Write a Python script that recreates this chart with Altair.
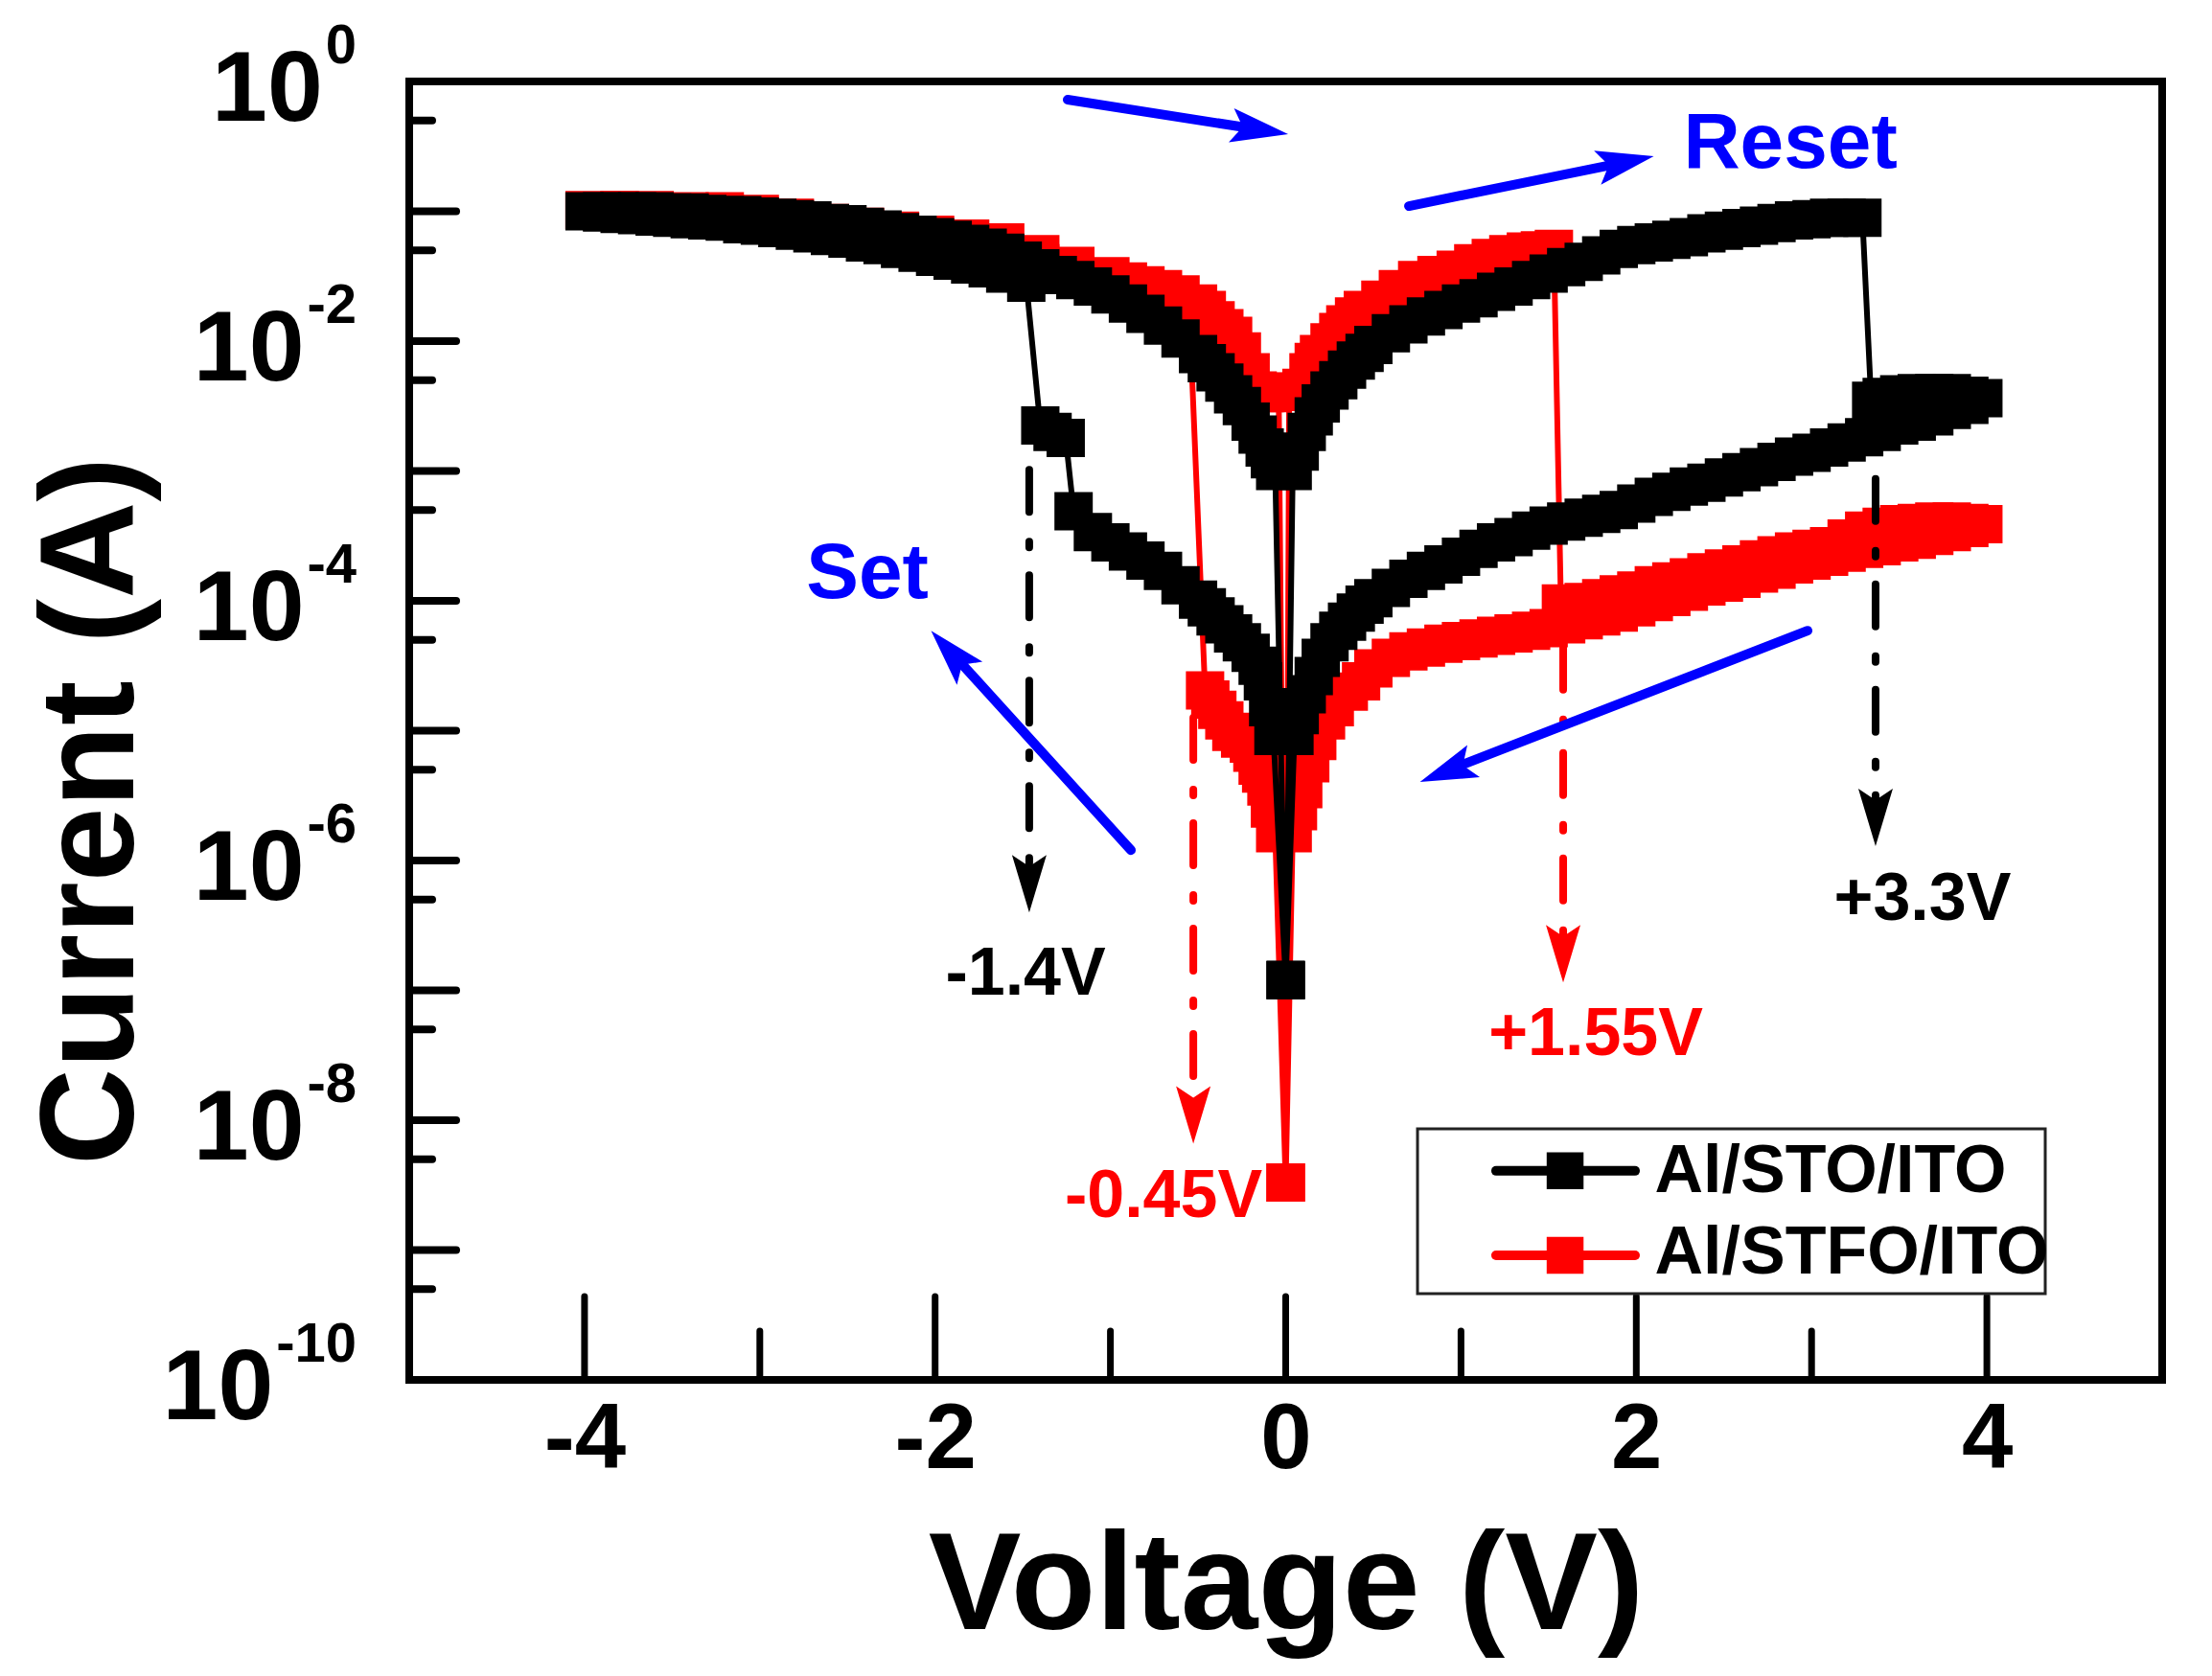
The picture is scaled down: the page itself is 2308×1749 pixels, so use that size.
import altair as alt
import pandas as pd

FONT = "Liberation Sans, Arial, Helvetica, sans-serif"
W, H = 1829, 1355          # plot area (px)
PXV = W / 10.0             # px per volt
PXD = H / 10.0             # px per decade

SERIES = ["Al/STO/ITO", "Al/STFO/ITO"]
COLORS = ["#000000", "#ff0000"]
BLUE = "#0000ff"

# ---------------- Al/STO/ITO (black) : sweep order, V and log10(I) ----------------
sto_lrs_pos_v = [0.04, 0.08, 0.12, 0.16, 0.20, 0.25, 0.30, 0.35, 0.40, 0.45, 0.50, 0.60, 0.70, 0.80, 0.90,
                 1.00, 1.10, 1.20, 1.30, 1.40, 1.50, 1.60, 1.70, 1.80, 1.90, 2.00, 2.10, 2.20, 2.30, 2.40,
                 2.50, 2.60, 2.70, 2.80, 2.90, 3.00, 3.10, 3.20, 3.29]
sto_lrs_pos_l = [-3.00, -2.85, -2.70, -2.58, -2.48, -2.38, -2.30, -2.22, -2.15, -2.09, -2.03, -1.94, -1.87,
                 -1.81, -1.76, -1.71, -1.67, -1.62, -1.58, -1.53, -1.48, -1.43, -1.39, -1.34, -1.29, -1.26,
                 -1.24, -1.22, -1.20, -1.17, -1.15, -1.13, -1.11, -1.09, -1.07, -1.06, -1.05, -1.05, -1.05]
sto_hrs_fwd_v = [3.34, 3.40, 3.50, 3.60, 3.70, 3.80, 3.90, 3.98]
sto_hrs_fwd_l = [-2.46, -2.43, -2.41, -2.40, -2.40, -2.40, -2.42, -2.44]
sto_hrs_back_v = [3.90, 3.80, 3.70, 3.60, 3.50, 3.40, 3.30, 3.20, 3.10, 3.00, 2.90, 2.80, 2.70, 2.60, 2.50,
                  2.40, 2.30, 2.20, 2.10, 2.00, 1.90, 1.80, 1.70, 1.60, 1.50, 1.40, 1.30, 1.20, 1.10, 1.00,
                  0.90, 0.80, 0.70, 0.60, 0.50, 0.45, 0.40, 0.35, 0.30, 0.25, 0.20, 0.16, 0.12, 0.08, 0.05]
sto_hrs_back_l = [-2.49, -2.53, -2.58, -2.62, -2.65, -2.70, -2.74, -2.78, -2.82, -2.86, -2.89, -2.93, -2.97,
                  -3.01, -3.05, -3.09, -3.12, -3.16, -3.20, -3.25, -3.30, -3.33, -3.36, -3.39, -3.42, -3.46,
                  -3.51, -3.55, -3.60, -3.66, -3.72, -3.77, -3.83, -3.90, -3.98, -4.03, -4.09, -4.16, -4.23,
                  -4.32, -4.44, -4.58, -4.72, -4.88, -5.04]
sto_hrs_neg_v = [-0.07, -0.10, -0.13, -0.16, -0.20, -0.25, -0.30, -0.35, -0.40, -0.45, -0.50, -0.60, -0.70,
                 -0.80, -0.90, -1.00, -1.10, -1.21, -1.255, -1.33, -1.40]
sto_hrs_neg_l = [-5.04, -4.82, -4.62, -4.50, -4.40, -4.32, -4.25, -4.18, -4.12, -4.05, -3.99, -3.88, -3.77,
                 -3.69, -3.62, -3.55, -3.47, -3.31, -2.745, -2.70, -2.65]
sto_lrs_out_v = [-1.48, -1.6, -1.7, -1.8, -1.9, -2.0, -2.1, -2.2, -2.3, -2.4, -2.5, -2.6, -2.7, -2.8, -2.9,
                 -3.0, -3.1, -3.2, -3.3, -3.4, -3.5, -3.6, -3.7, -3.8, -3.9, -4.0]
sto_lrs_out_l = [-1.55, -1.48, -1.44, -1.41, -1.38, -1.35, -1.32, -1.29, -1.26, -1.24, -1.21, -1.19, -1.17,
                 -1.15, -1.13, -1.11, -1.10, -1.08, -1.07, -1.06, -1.05, -1.04, -1.03, -1.02, -1.01, -1.00]
sto_lrs_in_v = [-3.9, -3.8, -3.7, -3.6, -3.5, -3.4, -3.3, -3.2, -3.1, -3.0, -2.9, -2.8, -2.7, -2.6, -2.5,
                -2.4, -2.3, -2.2, -2.1, -2.0, -1.9, -1.8, -1.7, -1.6, -1.5, -1.4, -1.3, -1.2, -1.1, -1.0,
                -0.9, -0.8, -0.7, -0.6, -0.5, -0.45, -0.40, -0.35, -0.30, -0.25, -0.20, -0.16, -0.12, -0.09, -0.06]
sto_lrs_in_l = [-1.00, -1.00, -1.00, -1.00, -1.01, -1.01, -1.02, -1.03, -1.03, -1.04, -1.05, -1.06, -1.07,
                -1.09, -1.10, -1.12, -1.14, -1.16, -1.18, -1.20, -1.22, -1.25, -1.28, -1.32, -1.38, -1.44,
                -1.49, -1.53, -1.58, -1.64, -1.71, -1.79, -1.88, -1.98, -2.10, -2.17, -2.24, -2.32, -2.41,
                -2.50, -2.62, -2.72, -2.82, -2.91, -3.00]
sto_zero_l = -6.92

# ---------------- Al/STFO/ITO (red) ----------------
stfo_lrs_pos_v = [0.02, 0.05, 0.09, 0.13, 0.16, 0.19, 0.25, 0.30, 0.34, 0.39, 0.44, 0.54, 0.64, 0.75, 0.86,
                  0.97, 1.07, 1.17, 1.27, 1.37, 1.45, 1.53]
stfo_lrs_pos_l = [-2.39, -2.39, -2.36, -2.24, -2.16, -2.10, -2.01, -1.93, -1.87, -1.81, -1.76, -1.68, -1.60,
                  -1.53, -1.49, -1.45, -1.40, -1.36, -1.33, -1.31, -1.30, -1.29]
stfo_hrs_fwd_v = [1.57, 1.7, 1.8, 1.9, 2.0, 2.1, 2.2, 2.3, 2.4, 2.5, 2.6, 2.7, 2.8, 2.9, 3.0, 3.1, 3.2, 3.3,
                  3.4, 3.5, 3.6, 3.7, 3.8, 3.9, 3.98]
stfo_hrs_fwd_l = [-4.02, -4.01, -3.98, -3.95, -3.92, -3.88, -3.85, -3.82, -3.78, -3.75, -3.72, -3.68, -3.65,
                  -3.62, -3.60, -3.58, -3.52, -3.46, -3.43, -3.41, -3.40, -3.39, -3.39, -3.40, -3.41]
stfo_hrs_back_v = [3.9, 3.8, 3.7, 3.6, 3.5, 3.4, 3.3, 3.2, 3.1, 3.0, 2.9, 2.8, 2.7, 2.6, 2.5, 2.4, 2.3, 2.2,
                   2.1, 2.0, 1.9, 1.8, 1.7, 1.6, 1.5, 1.4, 1.3, 1.2, 1.1, 1.0, 0.9, 0.8, 0.7, 0.6, 0.5, 0.43,
                   0.36, 0.28, 0.23, 0.18, 0.14, 0.10, 0.07, 0.04]
stfo_hrs_back_l = [-3.44, -3.47, -3.50, -3.53, -3.55, -3.58, -3.60, -3.63, -3.66, -3.69, -3.72, -3.76, -3.79,
                   -3.83, -3.86, -3.89, -3.93, -3.97, -4.01, -4.05, -4.09, -4.12, -4.15, -4.18, -4.21, -4.23,
                   -4.25, -4.27, -4.29, -4.31, -4.33, -4.36, -4.39, -4.44, -4.52, -4.62, -4.70, -4.82, -4.92,
                   -5.08, -5.25, -5.45, -5.62, -5.79]
stfo_hrs_neg_v = [-0.06, -0.09, -0.11, -0.14, -0.16, -0.19, -0.21, -0.26, -0.31, -0.35, -0.39, -0.43, -0.46]
stfo_hrs_neg_l = [-5.79, -5.60, -5.43, -5.33, -5.27, -5.17, -5.10, -5.06, -5.01, -4.92, -4.84, -4.76, -4.69]
stfo_lrs_out_v = [-0.55, -0.6, -0.7, -0.8, -0.9, -1.0, -1.2, -1.4, -1.6, -1.8, -2.0, -2.2, -2.4, -2.6, -2.8,
                  -3.0, -3.2, -3.4, -3.6, -3.8, -4.0]
stfo_lrs_out_l = [-1.75, -1.72, -1.68, -1.64, -1.60, -1.56, -1.48, -1.40, -1.33, -1.27, -1.22, -1.18, -1.14,
                  -1.10, -1.07, -1.04, -1.02, -1.01, -1.00, -0.99, -0.99]
stfo_lrs_in_v = [-3.8, -3.6, -3.4, -3.2, -3.0, -2.8, -2.6, -2.4, -2.2, -2.0, -1.8, -1.6, -1.4, -1.2, -1.0,
                 -0.9, -0.8, -0.7, -0.6, -0.5, -0.45, -0.40, -0.35, -0.30, -0.25, -0.20, -0.16, -0.12, -0.08, -0.04]
stfo_lrs_in_l = [-0.99, -0.99, -1.00, -1.00, -1.02, -1.05, -1.09, -1.12, -1.15, -1.18, -1.21, -1.24, -1.33,
                 -1.42, -1.50, -1.54, -1.57, -1.60, -1.64, -1.71, -1.76, -1.84, -1.90, -1.96, -2.08, -2.24,
                 -2.38, -2.40, -2.40, -2.39]
stfo_zero_l = -8.48

# ---------------- annotations ----------------
dd_v = [-1.463, 3.365, 1.583, -0.527]            # dash-dot arrows (switching voltages)
dd_top_l = [-2.99, -3.06, -4.36, -4.90]
dd_end_l = [-6.05, -5.54, -6.59, -7.83]
dd_tip_l = [-6.40, -5.89, -6.94, -8.18]
dd_col = ["#000000", "#000000", "#ff0000", "#ff0000"]

bl_start_v = [-1.244, 0.703, -0.883, 2.977]       # blue sweep-direction arrows
bl_start_l = [-0.140, -0.960, -5.920, -4.230]
bl_end_v = [-0.245, 1.845, -1.844, 1.013]
bl_end_l = [-0.351, -0.646, -4.491, -5.259]
bl_tip_v = [0.014, 2.100, -2.023, 0.766]
bl_tip_l = [-0.406, -0.576, -4.230, -5.395]
bl_ang = [98.9, 78.5, 317.8, 248.8]

ann_text = ["-1.4V", "+3.3V", "+1.55V", "-0.45V", "Set", "Reset"]
ann_v = [-1.484, 3.633, 1.769, -0.697, -2.386, 2.879]
ann_l = [-7.03, -6.458, -7.498, -8.745, -3.978, -0.664]
ann_col = ["#000000", "#000000", "#ff0000", "#ff0000", BLUE, BLUE]
ann_size = [70, 70, 70, 70, 82, 82]

y_exps = [0, -2, -4, -6, -8, -10]
x_major = [-4, -2, 0, 2, 4]
x_minor = [-3, -1, 1, 3]
y_major = [-1, -2, -3, -4, -5, -6, -7, -8, -9]
y_minor = [0.5 * 10.0 ** k for k in range(0, -10, -1)]

# legend layout (data coordinates of the legend box)
leg_box = dict(V=0.752, V2=4.333, L=-8.066, L2=-9.336)
leg_row_l = [-8.39, -9.04]
leg_text_l = [-8.553, -9.181]
leg_line_v = (1.200, 1.993)
leg_sym_v = 1.594
leg_text_v = 2.105


def p10(xs):
    return [10.0 ** x for x in xs]


def series_df(name, parts_v, parts_l):
    vs, ls = [], []
    for a, b in zip(parts_v, parts_l):
        assert len(a) == len(b), (name, len(a), len(b))
        vs += a
        ls += b
    return pd.DataFrame({"series": name, "idx": list(range(len(vs))), "V": vs, "I": p10(ls)})


sto = series_df(SERIES[0],
                [[0.0], sto_lrs_pos_v, sto_hrs_fwd_v, sto_hrs_back_v, [0.0], sto_hrs_neg_v, sto_lrs_out_v, sto_lrs_in_v, [0.0]],
                [[sto_zero_l], sto_lrs_pos_l, sto_hrs_fwd_l, sto_hrs_back_l, [sto_zero_l], sto_hrs_neg_l, sto_lrs_out_l, sto_lrs_in_l, [sto_zero_l]])
stfo = series_df(SERIES[1],
                 [[0.0], stfo_lrs_pos_v, stfo_hrs_fwd_v, stfo_hrs_back_v, [0.0], stfo_hrs_neg_v, stfo_lrs_out_v, stfo_lrs_in_v, [0.0]],
                 [[stfo_zero_l], stfo_lrs_pos_l, stfo_hrs_fwd_l, stfo_hrs_back_l, [stfo_zero_l], stfo_hrs_neg_l, stfo_lrs_out_l, stfo_lrs_in_l, [stfo_zero_l]])

XS = alt.Scale(domain=[-5, 5], nice=False, zero=False)
YS = alt.Scale(type="log", domain=[1e-10, 1], nice=False)
COLOR = alt.Color("series:N", scale=alt.Scale(domain=SERIES, range=COLORS), legend=None)

X_AXIS = alt.Axis(values=x_major, labelExpr="datum.value < 0 ? '-' + abs(datum.value) : '' + datum.value",
                  ticks=False, tickSize=0, domain=False, grid=False, labelFont=FONT, labelFontSize=96,
                  labelFontWeight="bold", labelColor="black", labelPadding=15, labelFlush=False,
                  title="Voltage (V)", titleFont=FONT, titleFontSize=145, titleFontWeight="bold",
                  titleColor="black", titleY=259, titleBaseline="alphabetic", titleAlign="center")
Y_AXIS = alt.Axis(labels=False, ticks=False, tickSize=0, domain=False, grid=False,
                  title="Current (A)", titleFont=FONT, titleFontSize=140, titleFontWeight="bold",
                  titleColor="black", titleAngle=270, titleX=-289, titleY=761, titleAlign="center",
                  titleBaseline="alphabetic")


def xq(f="V"):
    return alt.X(f + ":Q", scale=XS, axis=X_AXIS)


def yq(f="I"):
    return alt.Y(f + ":Q", scale=YS, axis=Y_AXIS)


# ---- inward ticks ----
ytick_df = pd.DataFrame({"I": p10(y_major) + y_minor,
                         "V": -5.0,
                         "V2": [-5 + 49 / PXV] * len(y_major) + [-5 + 24 / PXV] * len(y_minor)})
xtick_df = pd.DataFrame({"V": x_major + x_minor, "I": 1e-10,
                         "I2": [10 ** (-10 + 87 / PXD)] * len(x_major) + [10 ** (-10 + 51 / PXD)] * len(x_minor)})
yticks = alt.Chart(ytick_df).mark_rule(color="black", strokeWidth=8, strokeCap="round").encode(
    x=xq(), x2="V2:Q", y=yq())
xticks = alt.Chart(xtick_df).mark_rule(color="black", strokeWidth=7, strokeCap="round").encode(
    x=xq(), y=yq(), y2="I2:Q")

# ---- y tick labels: "10" + superscript exponent ----
def exp_width(e):
    s = str(e)
    return 32.2 * sum(c.isdigit() for c in s) + 19.3 * s.count("-")

ylab_df = pd.DataFrame({
    "I": [10.0 ** e for e in y_exps],
    "exp": [str(e) for e in y_exps],
    "Ve": -5 + (372 - 427) / PXV,
    "Vt": [-5 + (372 - exp_width(e) - 3 - 427) / PXV for e in y_exps],
    "ten": "10",
})
ylab_ten = alt.Chart(ylab_df).mark_text(align="right", baseline="alphabetic", dy=41, font=FONT,
                                         fontSize=104, fontWeight="bold", color="black").encode(
    x=xq("Vt"), y=yq(), text="ten:N")
ylab_exp = alt.Chart(ylab_df).mark_text(align="right", baseline="alphabetic", dy=-19, font=FONT,
                                         fontSize=58, fontWeight="bold", color="black").encode(
    x=xq("Ve"), y=yq(), text="exp:N")

# ---- data series ----
def line_layer(df):
    return alt.Chart(df).mark_line(strokeWidth=6, strokeCap="round", strokeJoin="round").encode(
        x=xq(), y=yq(), color=COLOR, order=alt.Order("idx:Q"))


def square_layer(df):
    return alt.Chart(df).mark_square(size=1600, filled=True, opacity=1, strokeWidth=0).encode(
        x=xq(), y=yq(), color=COLOR)


# ---- dash-dot switching arrows ----
dd_df = pd.DataFrame({"V": dd_v, "I": p10(dd_top_l), "I2": p10(dd_end_l), "It": p10(dd_tip_l), "c": dd_col})
HEAD = "M0,0L0.3,1L0,0.8L-0.3,1Z"
dd_lines = alt.Chart(dd_df).mark_rule(strokeWidth=8, strokeCap="round", strokeDash=[44, 31, 6, 29]).encode(
    x=xq(), y=yq(), y2="I2:Q", color=alt.Color("c:N", scale=None))
dd_heads = alt.Chart(dd_df).mark_point(shape=HEAD, filled=True, size=14400, opacity=1, strokeWidth=0,
                                       angle=180).encode(
    x=xq(), y=yq("It"), color=alt.Color("c:N", scale=None))

# ---- blue sweep arrows ----
bl_df = pd.DataFrame({"V": bl_start_v, "I": p10(bl_start_l), "V2": bl_end_v, "I2": p10(bl_end_l),
                      "Vt": bl_tip_v, "It": p10(bl_tip_l), "ang": bl_ang})
bl_lines = alt.Chart(bl_df).mark_rule(strokeWidth=10, strokeCap="round", color=BLUE).encode(
    x=xq(), y=yq(), x2="V2:Q", y2="I2:Q")
bl_heads = alt.Chart(bl_df).mark_point(shape=HEAD, filled=True, size=14400, opacity=1, strokeWidth=0,
                                       color=BLUE).encode(
    x=xq("Vt"), y=yq("It"), angle=alt.Angle("ang:Q", scale=None))

# ---- annotation texts ----
ann_df = pd.DataFrame({"V": ann_v, "I": p10(ann_l), "t": ann_text, "c": ann_col, "fs": ann_size})
ann = alt.Chart(ann_df).mark_text(align="center", baseline="alphabetic", font=FONT, fontWeight="bold").encode(
    x=xq(), y=yq(), text="t:N", color=alt.Color("c:N", scale=None), size=alt.Size("fs:Q", scale=None))

# ---- legend (drawn in-plot, as in the original) ----
box_df = pd.DataFrame({"V": [leg_box["V"]], "V2": [leg_box["V2"]], "I": [10 ** leg_box["L"]], "I2": [10 ** leg_box["L2"]]})
leg_rect = alt.Chart(box_df).mark_rect(fill="white", stroke="#222222", strokeWidth=3).encode(
    x=xq(), x2="V2:Q", y=yq(), y2="I2:Q")
leg_df = pd.DataFrame({"series": SERIES, "I": p10(leg_row_l), "It": p10(leg_text_l),
                       "V": leg_line_v[0], "V2": leg_line_v[1], "Vs": leg_sym_v, "Vt": leg_text_v})
leg_lines = alt.Chart(leg_df).mark_rule(strokeWidth=10, strokeCap="round").encode(
    x=xq(), x2="V2:Q", y=yq(), color=COLOR)
leg_syms = alt.Chart(leg_df).mark_square(size=1480, filled=True, opacity=1, strokeWidth=0).encode(
    x=xq("Vs"), y=yq(), color=COLOR)
leg_text = alt.Chart(leg_df).mark_text(align="left", baseline="alphabetic", font=FONT, fontSize=70,
                                        fontWeight="bold", color="black").encode(
    x=xq("Vt"), y=yq("It"), text="series:N")

chart = alt.layer(
    yticks, xticks,
    line_layer(stfo), square_layer(stfo),
    line_layer(sto), square_layer(sto),
    dd_lines, dd_heads, bl_lines, bl_heads, ann,
    leg_rect, leg_lines, leg_syms, leg_text,
    ylab_ten, ylab_exp,
).properties(
    width=W, height=H,
    autosize=alt.AutoSizeParams(type="none"),
    padding={"left": 419, "top": 77, "right": 44, "bottom": 301},
    background="white",
).configure_view(stroke="black", strokeWidth=8)

chart.save("out.html", embed_options={"renderer": "svg", "actions": False})
